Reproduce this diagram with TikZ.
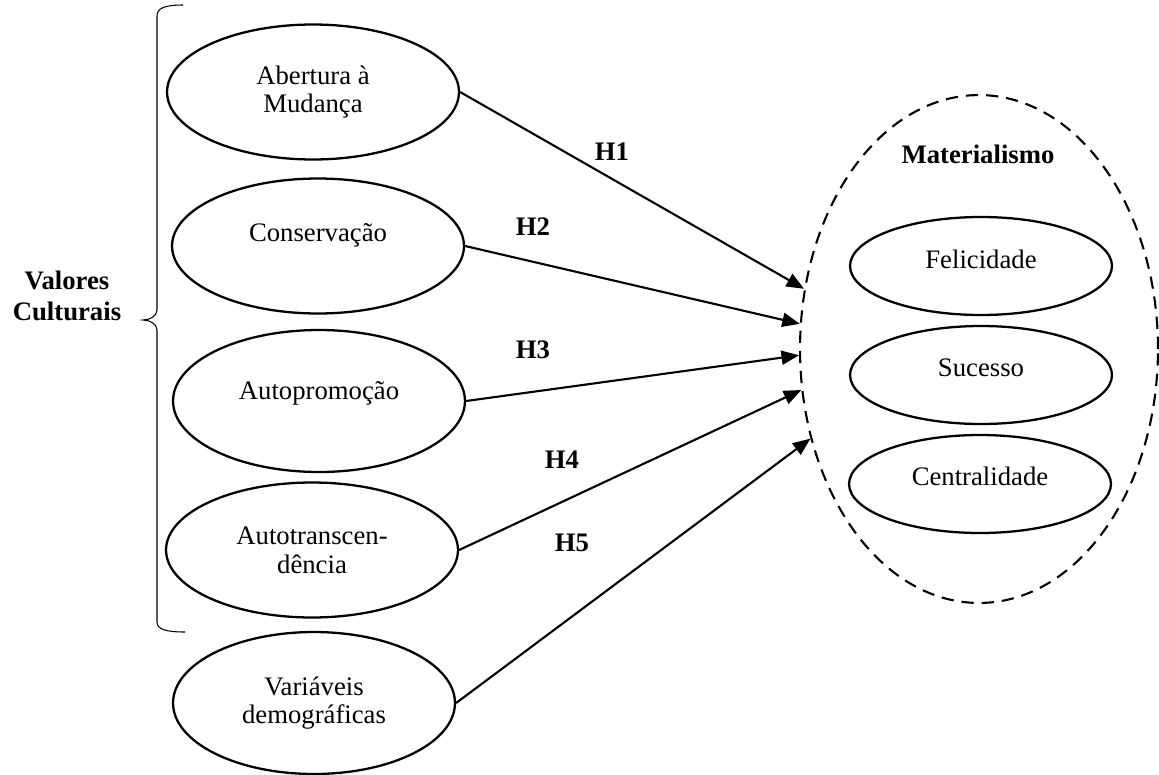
\documentclass[tikz,border=0pt]{standalone}
\usepackage{fontspec}
\setmainfont{Liberation Serif}
\usetikzlibrary{shapes.geometric,arrows.meta,positioning}

\newcommand{\corpo}{\fontsize{15.2}{16.4}\selectfont}

\begin{document}
\begin{tikzpicture}[x=0.02cm, y=-0.02cm, font=\corpo,
    valor/.style={draw, ellipse, line width=1.3pt, minimum width=5.84cm, minimum height=2.7cm, align=center, inner sep=0pt},
    dimensao/.style={draw, ellipse, line width=1.3pt, minimum width=5.24cm, minimum height=1.96cm, inner sep=0pt},
    hip/.style={-{Triangle[length=10pt,width=8pt]}, line width=1.2pt},
    negrito/.style={font=\corpo\bfseries}]
    \useasboundingbox (0,0) rectangle (1159,774);

    % Valores culturais (lado esquerdo)
    \node[valor] (abertura) at (313,92) {Abertura à\\Mudança};
    \node[valor, text depth=15pt] (conservacao) at (318,246) {Conservação};
    \node[valor, minimum height=2.84cm, text depth=11.5pt] (autopromocao) at (319,401) {Autopromoção};
    \node[valor] (autotransc) at (312,550) {Autotranscen-\\dência};
    \node[valor, minimum width=5.64cm, minimum height=2.84cm] (demograf) at (314,703) {Variáveis\\demográficas};

    % Chave e rótulo do grupo
    \draw[line width=0.6pt] (183,5) .. controls (165,5) and (157,8) .. (157,16) -- (157,310)
        .. controls (157,316) and (150,320) .. (143,320)
        .. controls (150,320) and (157,324) .. (157,330) -- (157,622)
        .. controls (157,629) and (165,632) .. (185,632);
    \node[negrito, align=center, font=\fontsize{15.2}{18}\selectfont\bfseries] (valores) at (67,296) {Valores\\Culturais};

    % Materialismo (lado direito)
    \node[draw, ellipse, dash pattern=on 7pt off 4.5pt, line width=1.2pt,
        minimum width=7.16cm, minimum height=10.16cm] (mat) at (979,349) {};
    \node[negrito] (titulo) at (978,154) {Materialismo};
    \node[dimensao, text depth=8pt] (felicidade) at (981,266) {Felicidade};
    \node[dimensao, text depth=8pt] (sucesso) at (981,375) {Sucesso};
    \node[dimensao, text depth=9pt] (centralidade) at (980,484) {Centralidade};

    % Hipoteses
    \draw[hip] (abertura.east) -- (mat.161);
    \draw[hip] (conservacao.east) -- (mat.172);
    \draw[hip] (autopromocao.east) -- (mat.182);
    \draw[hip] (autotransc.east) -- (mat.193);
    \draw[hip] (demograf.east) -- (mat.208);

    \node[negrito] (h1) at (612,152) {H1};
    \node[negrito] (h2) at (533,227) {H2};
    \node[negrito] (h3) at (533,350) {H3};
    \node[negrito] (h4) at (562,460) {H4};
    \node[negrito] (h5) at (572,543) {H5};

\end{tikzpicture}
\end{document}
